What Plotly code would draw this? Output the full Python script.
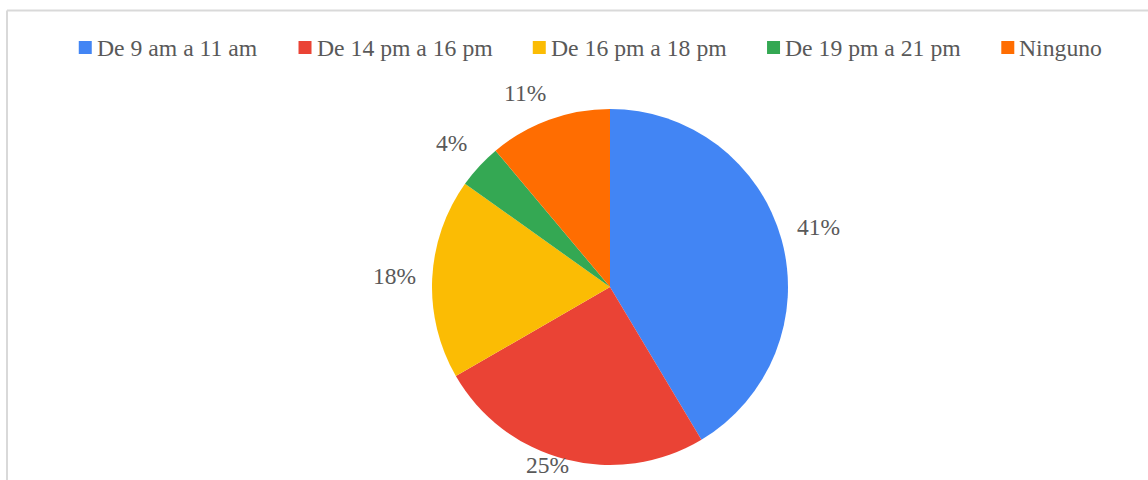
import math
import plotly.graph_objects as go

# Horario preferido
categorias = ["De 9 am a 11 am", "De 14 pm a 16 pm", "De 16 pm a 18 pm", "De 19 pm a 21 pm", "Ninguno"]
porcentajes = [41, 25, 18, 4, 11]
colores = ["#4285F4", "#EA4335", "#FBBC04", "#34A853", "#FF6D01"]

W, H = 1148, 480
cx, cy, r = 610, 287, 178
SERIF = "Liberation Serif"
GRIS = "#595959"
F_LEYENDA = 23.7
F_ETIQ = 23.5

# Advance widths (em) of the Times-metric serif glyphs used in the texts
ANCHO = {" ": 0.25, "D": 0.722, "N": 0.722, "e": 0.444, "a": 0.444, "m": 0.778,
         "p": 0.5, "i": 0.278, "n": 0.5, "g": 0.5, "u": 0.5, "o": 0.5, "%": 0.833}


def ancho_texto(s, size):
    return sum(ANCHO.get(c, 0.5) for c in s) * size


fig = go.Figure(
    go.Pie(
        labels=categorias,
        values=porcentajes,
        marker=dict(colors=colores, line=dict(width=0)),
        sort=False,
        direction="clockwise",
        rotation=0,
        textinfo="none",
        hoverinfo="label+percent",
        showlegend=False,
        domain=dict(x=[(cx - r) / W, (cx + r) / W], y=[1 - (cy + r) / H, 1 - (cy - r) / H]),
    )
)

anotaciones = []
formas = []

# Outside percentage labels, placed beyond each slice's mid angle
# (kept inside the figure's lower edge)
total = sum(porcentajes)
acum = 0
for v in porcentajes:
    theta = 2 * math.pi * (acum + v / 2) / total
    acum += v
    ux, uy = math.sin(theta), math.cos(theta)  # uy points up
    texto = f"{round(100 * v / total)}%"
    hw = ancho_texto(texto, F_ETIQ) / 2
    hh = 12
    d = r + 16
    px, py = cx + d * ux, cy - d * uy
    ox = hw * max(-1, min(1, 2.5 * ux))
    oy = hh * max(-1, min(1, 2.5 * uy))
    lx, ly = px + ox, min(py - oy, H - 15)
    anotaciones.append(dict(
        x=lx / W, y=1 - ly / H, xref="paper", yref="paper",
        text=texto, showarrow=False, xanchor="center", yanchor="middle",
        font=dict(family=SERIF, size=F_ETIQ, color=GRIS),
    ))

# Legend row: coloured square + label, centred across the top
lado, sep, hueco = 13, 5, 40.5
anchos = [ancho_texto(c, F_LEYENDA) for c in categorias]
total_ley = sum(anchos) + len(categorias) * (lado + sep) + (len(categorias) - 1) * hueco
x = 590.5 - total_ley / 2
yl = 47.5
for c, col, a in zip(categorias, colores, anchos):
    formas.append(dict(type="rect", xref="paper", yref="paper",
                       x0=x / W, x1=(x + lado) / W, y0=1 - (yl + lado / 2) / H, y1=1 - (yl - lado / 2) / H,
                       fillcolor=col, line=dict(width=0)))
    anotaciones.append(dict(
        x=(x + lado + sep) / W, y=1 - yl / H, xref="paper", yref="paper",
        text=c, showarrow=False, xanchor="left", yanchor="middle",
        font=dict(family=SERIF, size=F_LEYENDA, color=GRIS),
        xshift=-2,
    ))
    x += lado + sep + a + hueco

# Chart-area frame (top and left edges)
formas += [
    dict(type="line", xref="paper", yref="paper", x0=7 / W, x1=1.01, y0=1 - 10.5 / H, y1=1 - 10.5 / H,
         line=dict(color="#d9d9d9", width=2)),
    dict(type="line", xref="paper", yref="paper", x0=7 / W, x1=7 / W, y0=1 - 10.5 / H, y1=-0.01,
         line=dict(color="#d9d9d9", width=2)),
]

fig.update_layout(
    width=W,
    height=H,
    margin=dict(l=0, r=0, t=0, b=0),
    paper_bgcolor="white",
    font=dict(family=SERIF, size=F_ETIQ, color=GRIS),
    showlegend=False,
    annotations=anotaciones,
    shapes=formas,
)

fig.write_html("out.html")
